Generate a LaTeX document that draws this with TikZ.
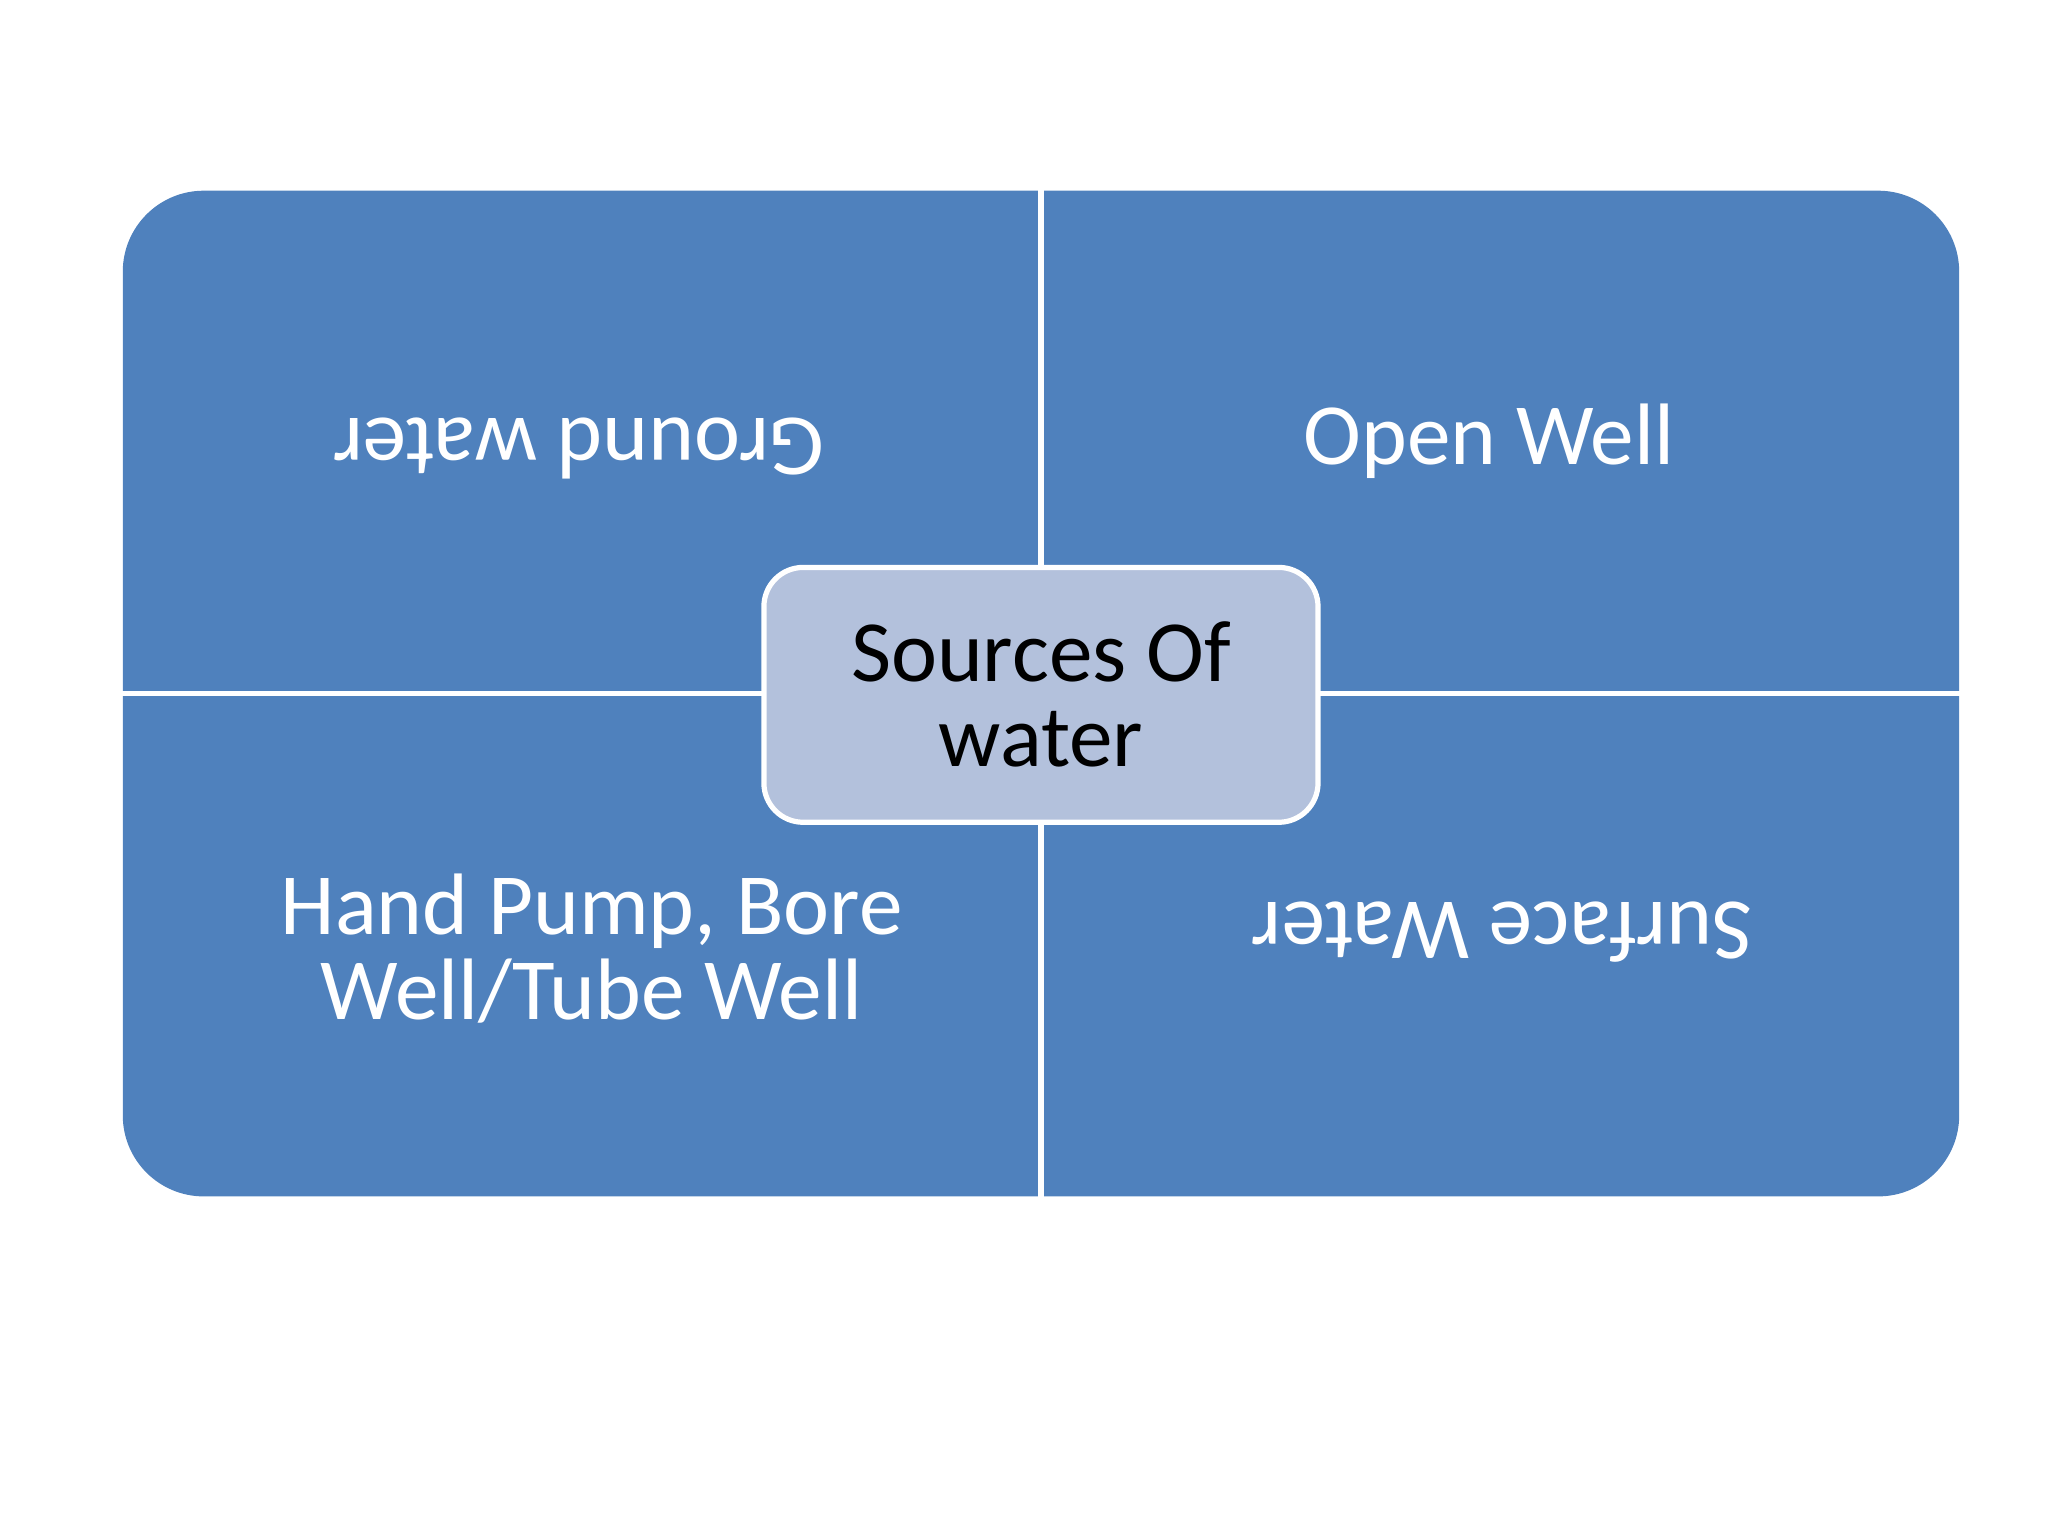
\documentclass[tikz,border=0pt]{standalone}
\usepackage{fontspec}
\setmainfont{Carlito}
\definecolor{qblue}{HTML}{4F81BD}
\definecolor{cblue}{HTML}{B3C1DC}
\begin{document}
\begin{tikzpicture}[x=0.01cm,y=-0.01cm,
  qtext/.style={text=white,font=\fontsize{19}{18.5}\selectfont,align=center},
  divider/.style={white,line width=0.045cm}]
\useasboundingbox (0,0) rectangle (1568,1176);
\fill[qblue,rounded corners=0.62cm] (94,146) rectangle (1500,916);
\draw[divider] (797,140) -- (797,922);
\draw[divider] (88,531) -- (1506,531);
\node[qtext,rotate=180] (gw) at (443,343) {Ground water};
\node[qtext] (ow) at (1140,338) {Open Well};
\node[qtext] (hp) at (453,726) {Hand Pump, Bore\\Well/Tube Well};
\node[qtext,rotate=180] (sw) at (1150,714) {Surface Water};
\node[draw=white,line width=0.04cm,fill=cblue,rounded corners=0.3cm,
  minimum width=4.24cm,minimum height=1.95cm,align=center,
  font=\fontsize{19}{18.5}\selectfont] (c) at (797,532) {Sources Of\\water};
\end{tikzpicture}
\end{document}
